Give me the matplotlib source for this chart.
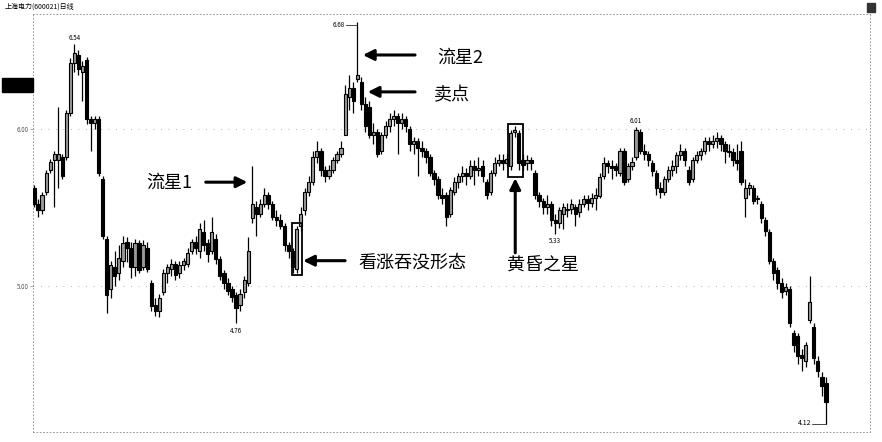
import matplotlib
matplotlib.use("Agg")
import matplotlib.pyplot as plt
from matplotlib.patches import Rectangle

plt.rcParams['font.family'] = ['Noto Sans CJK SC', 'DejaVu Sans']

title = "上海电力(600021)日线"

opens = [
    5.62, 5.52, 5.48, 5.60, 5.74, 5.80, 5.80, 5.82, 5.82, 6.10,
    6.42, 6.47, 6.36, 6.44, 6.06, 6.04, 6.06, 5.68, 5.30, 4.98,
    5.12, 5.08, 5.16, 5.28, 5.24, 5.12, 5.27, 5.12, 5.24, 5.02,
    4.88, 4.84, 4.96, 5.08, 5.11, 5.14, 5.08, 5.13, 5.14, 5.22,
    5.28, 5.22, 5.34, 5.27, 5.22, 5.30, 5.17, 5.08, 5.02, 4.98,
    4.94, 4.88, 4.96, 5.02, 5.43, 5.50, 5.46, 5.52, 5.58, 5.52,
    5.44, 5.42, 5.38, 5.26, 5.22, 5.11, 5.38, 5.48, 5.60, 5.66,
    5.82, 5.86, 5.74, 5.70, 5.74, 5.80, 5.84, 5.96, 6.20, 6.26,
    6.32, 6.30, 6.16, 6.14, 5.96, 5.98, 5.86, 5.96, 6.02, 6.06,
    6.08, 6.04, 6.06, 6.00, 5.90, 5.92, 5.88, 5.86, 5.82, 5.72,
    5.68, 5.58, 5.58, 5.46, 5.60, 5.66, 5.70, 5.72, 5.70, 5.76,
    5.74, 5.76, 5.66, 5.60, 5.72, 5.78, 5.80, 5.78, 5.76, 5.98,
    5.97, 5.80, 5.78, 5.80, 5.72, 5.58, 5.54, 5.50, 5.52, 5.42,
    5.40, 5.46, 5.48, 5.49, 5.50, 5.47, 5.52, 5.55, 5.53, 5.56,
    5.57, 5.70, 5.78, 5.76, 5.76, 5.72, 5.86, 5.68, 5.76, 5.82,
    5.98, 5.86, 5.84, 5.78, 5.72, 5.62, 5.60, 5.68, 5.74, 5.76,
    5.83, 5.86, 5.74, 5.68, 5.80, 5.83, 5.86, 5.92, 5.90, 5.92,
    5.94, 5.90, 5.86, 5.85, 5.80, 5.86, 5.56, 5.62, 5.62, 5.55,
    5.52, 5.42, 5.34, 5.16, 5.10, 5.02, 4.97, 4.98, 4.70, 4.68,
    4.56, 4.52, 4.78, 4.74, 4.52, 4.42, 4.38,
]
highs = [
    5.64, 5.55, 5.60, 5.74, 5.81, 5.86, 6.14, 5.84, 6.12, 6.45,
    6.54, 6.50, 6.43, 6.46, 6.08, 6.08, 6.08, 5.70, 5.32, 5.16,
    5.22, 5.26, 5.32, 5.31, 5.28, 5.30, 5.29, 5.29, 5.28, 5.04,
    4.92, 4.95, 5.11, 5.14, 5.17, 5.16, 5.16, 5.18, 5.24, 5.30,
    5.32, 5.40, 5.42, 5.30, 5.44, 5.33, 5.19, 5.10, 5.05, 5.00,
    4.96, 4.98, 5.06, 5.31, 5.76, 5.54, 5.55, 5.62, 5.60, 5.54,
    5.48, 5.46, 5.40, 5.28, 5.24, 5.38, 5.50, 5.62, 5.70, 5.86,
    5.92, 5.88, 5.76, 5.77, 5.82, 5.86, 5.92, 6.28, 6.34, 6.30,
    6.68, 6.33, 6.20, 6.18, 6.04, 6.00, 5.98, 6.05, 6.10, 6.12,
    6.10, 6.10, 6.08, 6.02, 5.95, 5.94, 5.92, 5.88, 5.84, 5.74,
    5.70, 5.62, 5.60, 5.63, 5.69, 5.72, 5.76, 5.75, 5.80, 5.80,
    5.82, 5.80, 5.68, 5.74, 5.82, 5.84, 5.84, 5.84, 5.99, 6.02,
    5.99, 5.84, 5.83, 5.82, 5.74, 5.60, 5.56, 5.58, 5.54, 5.46,
    5.50, 5.53, 5.53, 5.55, 5.52, 5.55, 5.58, 5.58, 5.59, 5.62,
    5.72, 5.82, 5.80, 5.80, 5.78, 5.88, 5.88, 5.78, 5.82, 6.01,
    6.00, 5.90, 5.86, 5.80, 5.74, 5.66, 5.70, 5.76, 5.80, 5.85,
    5.90, 5.88, 5.76, 5.82, 5.86, 5.88, 5.95, 5.95, 5.96, 5.98,
    5.96, 5.92, 5.90, 5.88, 5.90, 5.92, 5.68, 5.66, 5.64, 5.58,
    5.54, 5.44, 5.36, 5.18, 5.12, 5.05, 5.02, 5.00, 4.72, 4.70,
    4.60, 4.64, 5.06, 4.76, 4.55, 4.45, 4.42,
]
lows = [
    5.50, 5.44, 5.46, 5.58, 5.72, 5.50, 5.62, 5.68, 5.80, 6.08,
    6.36, 6.34, 6.18, 6.03, 5.86, 6.00, 5.70, 5.30, 4.83, 4.92,
    5.00, 5.04, 5.12, 5.15, 5.05, 5.06, 5.08, 5.10, 5.09, 4.84,
    4.81, 4.80, 4.94, 5.02, 5.06, 5.04, 5.05, 5.10, 5.12, 5.20,
    5.20, 5.18, 5.22, 5.15, 5.20, 5.14, 5.04, 4.98, 4.94, 4.90,
    4.76, 4.84, 4.92, 5.00, 5.40, 5.32, 5.44, 5.50, 5.49, 5.42,
    5.38, 5.36, 5.22, 5.18, 5.08, 5.08, 5.35, 5.45, 5.57, 5.64,
    5.78, 5.70, 5.66, 5.68, 5.72, 5.78, 5.82, 5.96, 6.12, 6.10,
    6.30, 6.12, 5.98, 5.94, 5.90, 5.82, 5.84, 5.94, 5.98, 6.02,
    5.84, 6.00, 5.98, 5.86, 5.84, 5.70, 5.82, 5.78, 5.70, 5.64,
    5.55, 5.52, 5.38, 5.44, 5.58, 5.62, 5.66, 5.64, 5.68, 5.64,
    5.70, 5.66, 5.55, 5.58, 5.70, 5.76, 5.74, 5.76, 5.74, 5.95,
    5.74, 5.74, 5.74, 5.74, 5.55, 5.50, 5.46, 5.46, 5.38, 5.33,
    5.37, 5.36, 5.44, 5.46, 5.38, 5.44, 5.50, 5.48, 5.50, 5.48,
    5.56, 5.68, 5.72, 5.68, 5.70, 5.70, 5.64, 5.66, 5.74, 5.80,
    5.84, 5.80, 5.76, 5.70, 5.58, 5.56, 5.58, 5.66, 5.70, 5.72,
    5.80, 5.76, 5.64, 5.66, 5.78, 5.80, 5.84, 5.86, 5.88, 5.88,
    5.86, 5.78, 5.82, 5.76, 5.74, 5.64, 5.44, 5.58, 5.52, 5.52,
    5.40, 5.32, 5.14, 5.04, 4.98, 4.92, 4.94, 4.74, 4.58, 4.50,
    4.46, 4.48, 4.76, 4.50, 4.42, 4.30, 4.12,
]
closes = [
    5.52, 5.48, 5.58, 5.72, 5.79, 5.84, 5.84, 5.70, 6.10, 6.42,
    6.48, 6.38, 6.40, 6.06, 6.04, 6.06, 5.72, 5.32, 4.94, 5.13,
    5.06, 5.18, 5.27, 5.24, 5.12, 5.27, 5.10, 5.26, 5.11, 4.87,
    4.84, 4.92, 5.08, 5.12, 5.14, 5.07, 5.13, 5.16, 5.21, 5.28,
    5.24, 5.36, 5.26, 5.20, 5.34, 5.17, 5.06, 5.02, 4.97, 4.93,
    4.86, 4.95, 5.04, 5.22, 5.52, 5.46, 5.52, 5.58, 5.52, 5.44,
    5.42, 5.38, 5.26, 5.22, 5.12, 5.36, 5.46, 5.60, 5.66, 5.82,
    5.86, 5.74, 5.70, 5.74, 5.80, 5.84, 5.88, 6.22, 6.26, 6.18,
    6.34, 6.16, 6.02, 5.96, 5.98, 5.84, 5.96, 6.02, 6.06, 6.08,
    6.04, 6.06, 6.02, 5.90, 5.92, 5.88, 5.86, 5.82, 5.72, 5.68,
    5.58, 5.56, 5.44, 5.61, 5.66, 5.70, 5.72, 5.70, 5.76, 5.74,
    5.75, 5.70, 5.58, 5.72, 5.78, 5.80, 5.78, 5.81, 5.97, 5.99,
    5.78, 5.77, 5.80, 5.78, 5.58, 5.54, 5.50, 5.52, 5.42, 5.40,
    5.48, 5.50, 5.49, 5.52, 5.46, 5.52, 5.55, 5.53, 5.56, 5.58,
    5.69, 5.78, 5.76, 5.75, 5.74, 5.86, 5.66, 5.76, 5.79, 5.99,
    5.86, 5.84, 5.80, 5.73, 5.62, 5.60, 5.68, 5.74, 5.76, 5.83,
    5.86, 5.80, 5.66, 5.80, 5.83, 5.86, 5.92, 5.90, 5.92, 5.94,
    5.90, 5.86, 5.85, 5.80, 5.78, 5.66, 5.62, 5.64, 5.54, 5.56,
    5.43, 5.35, 5.16, 5.08, 5.02, 4.96, 4.99, 4.76, 4.62, 4.55,
    4.54, 4.62, 4.90, 4.54, 4.46, 4.36, 4.26,
]

# marked extremes: (candle index, price, where the label goes)
extremes = [(10, 6.54, "top"), (50, 4.76, "bottom"), (129, 5.33, "bottom"), (149, 6.01, "top")]


def draw_candles(ax):
    n = len(closes)
    xs = list(range(n))
    ax.vlines(xs, lows, highs, color="black", linewidth=0.9, zorder=2)
    for i in xs:
        o, c = opens[i], closes[i]
        bottom = min(o, c)
        height = max(abs(c - o), 0.006)
        # the scan shows rising candles as grey hollow bodies
        face = "#9a9a9a" if c > o else "black"
        ax.bar(i, height, bottom=bottom, width=0.8, color=face,
               edgecolor="black", linewidth=0.8, zorder=3)


def arrow(ax, start, tip):
    ax.annotate("", xy=tip, xytext=start,
                arrowprops=dict(arrowstyle="-|>", color="black", lw=2.2,
                                mutation_scale=16, shrinkA=0, shrinkB=0))


fig = plt.figure(figsize=(8.82, 4.42), dpi=100)
ax = fig.add_axes([33 / 882, 10 / 442, 837 / 882, 418 / 442])

draw_candles(ax)

ax.set_xlim(-0.25, 206.9)
ax.set_ylim(4.069, 6.731)

# faint dotted grid like the scan
for p in [5.0, 6.0]:
    ax.axhline(p, color="#999999", lw=0.6, ls=(0, (1, 8)), zorder=0)
for s in ax.spines.values():
    s.set_color("#888888")
    s.set_linestyle((0, (1, 3)))
    s.set_linewidth(0.6)
ax.set_xticks([])
ax.set_yticks([5.0, 6.0])
ax.set_yticklabels(["5.00", "6.00"], fontsize=4.5, color="#555555")
ax.tick_params(axis="y", length=2, width=0.5, color="#888888", pad=1)

# extreme price labels
for idx, price, where in extremes:
    if where == "top":
        ax.text(idx, price + 0.015, "%.2f" % price, fontsize=4.5, ha="center", va="bottom")
    else:
        ax.text(idx, price - 0.02, "%.2f" % price, fontsize=4.5, ha="center", va="top")
ax.plot([77.2, 80], [6.66, 6.66], color="black", lw=0.5)
ax.text(77, 6.66, "6.68", fontsize=4.5, ha="right", va="center")
ax.plot([192.6, 196], [4.12, 4.12], color="black", lw=0.5)
ax.text(192.4, 4.125, "4.12", fontsize=5, ha="right", va="center")

# pattern boxes
ax.add_patch(Rectangle((63.8, 5.07), 2.6, 0.33, fill=False, ec="black", lw=1.3, zorder=4))
ax.add_patch(Rectangle((117.3, 5.69), 3.6, 0.34, fill=False, ec="black", lw=1.3, zorder=4))

# annotations
ax.text(33.5, 5.655, "流星1", fontsize=13, ha="center", va="center")
arrow(ax, (42.5, 5.66), (52.8, 5.66))

ax.text(105.5, 6.45, "流星2", fontsize=13, ha="center", va="center")
arrow(ax, (94.3, 6.47), (81.4, 6.47))

ax.text(103.5, 6.215, "卖点", fontsize=13, ha="center", va="center")
arrow(ax, (94.3, 6.235), (82.6, 6.235))

ax.text(80.2, 5.15, "看涨吞没形态", fontsize=13, ha="left", va="center")
arrow(ax, (77.0, 5.16), (66.6, 5.16))

ax.text(126.0, 5.13, "黄昏之星", fontsize=13, ha="center", va="center")
arrow(ax, (119.1, 5.21), (119.1, 5.685))

# header and side marker of the trading software
fig.text(5 / 882, 1 - 7 / 442, title, fontsize=5, ha="left", va="center")
fig.patches.append(Rectangle((2 / 882, 1 - 92 / 442), 31 / 882, 14 / 442,
                             transform=fig.transFigure, color="black"))
fig.patches.append(Rectangle((867 / 882, 1 - 12 / 442), 8 / 882, 9 / 442,
                             transform=fig.transFigure, color="#333333"))

fig.savefig("out.png", dpi=100)
